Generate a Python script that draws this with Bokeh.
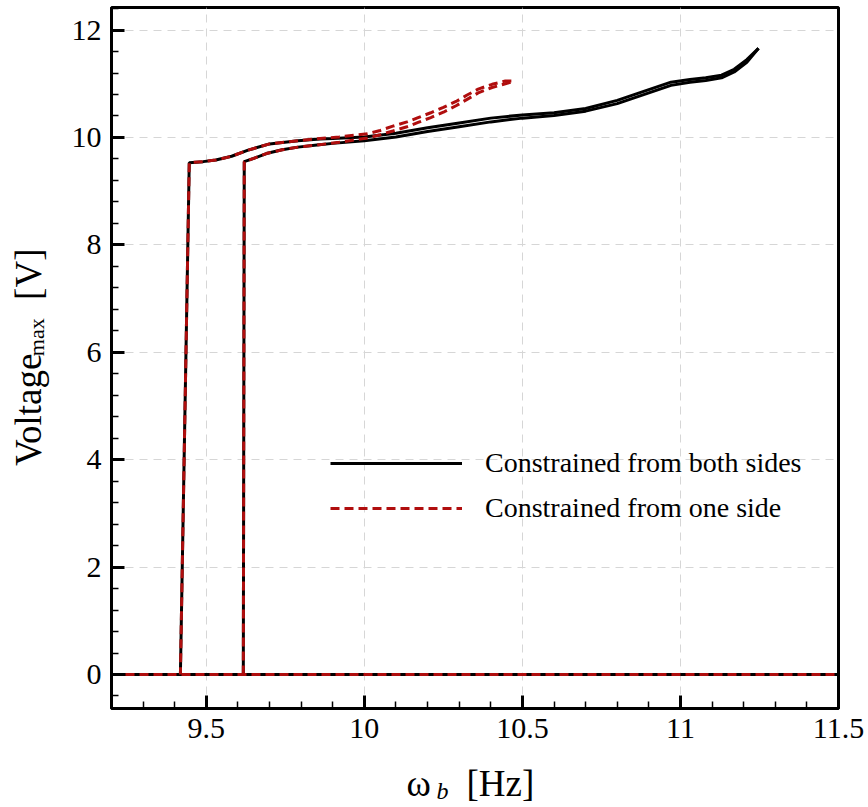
from math import pi
import numpy as np
from bokeh.plotting import figure
from bokeh.layouts import row, column
from bokeh.models import FixedTicker, PrintfTickFormatter, Legend, LegendItem, Range1d
from bokeh.core.properties import value
from bokeh.embed import file_html
from bokeh.resources import INLINE

# ---------------- data ----------------
# "off" (zero-voltage) state
x_off = [9.2, 11.5]
y_off = [0.0, 0.0]

# Constrained from both sides : up-sweep (lower branch)
x_both_up = [9.617, 9.62, 9.65, 9.69, 9.74, 9.79, 9.85, 9.9, 10.0, 10.1, 10.2, 10.3, 10.4,
             10.5, 10.6, 10.7, 10.8, 10.9, 10.97, 11.03, 11.08, 11.13, 11.17, 11.21, 11.247]
y_both_up = [0.0, 9.55, 9.61, 9.70, 9.77, 9.82, 9.86, 9.89, 9.94, 10.01, 10.11, 10.20, 10.29,
             10.36, 10.41, 10.49, 10.63, 10.83, 10.97, 11.03, 11.06, 11.11, 11.22, 11.40, 11.66]
# Constrained from both sides : down-sweep (upper branch)
x_both_down = [11.247, 11.21, 11.17, 11.13, 11.08, 11.03, 10.97, 10.9, 10.8, 10.7, 10.6, 10.5, 10.4,
               10.3, 10.2, 10.1, 10.0, 9.9, 9.86, 9.79, 9.7, 9.63, 9.58, 9.53, 9.49, 9.446, 9.418]
y_both_down = [11.66, 11.45, 11.27, 11.16, 11.11, 11.08, 11.03, 10.89, 10.69, 10.54, 10.46, 10.42,
               10.36, 10.27, 10.18, 10.08, 10.01, 9.98, 9.97, 9.94, 9.88, 9.76, 9.65, 9.58, 9.55,
               9.53, 0.0]

# Constrained from one side : up-sweep (lower branch)
x_one_up = [9.617, 9.62, 9.65, 9.69, 9.74, 9.79, 9.85, 9.92, 10.01, 10.05, 10.09, 10.135,
            10.17, 10.21, 10.25, 10.29, 10.325, 10.36, 10.404, 10.446, 10.465]
y_one_up = [0.0, 9.55, 9.61, 9.70, 9.77, 9.82, 9.86, 9.91, 9.99, 10.05, 10.12, 10.20,
            10.28, 10.37, 10.47, 10.59, 10.71, 10.83, 10.93, 11.00, 11.03]
# Constrained from one side : down-sweep (upper branch)
x_one_down = [10.465, 10.446, 10.404, 10.36, 10.325, 10.29, 10.25, 10.21, 10.17, 10.135, 10.09,
              10.05, 10.01, 9.92, 9.86, 9.79, 9.7, 9.63, 9.58, 9.53, 9.49, 9.446, 9.418]
y_one_down = [11.05, 11.05, 10.99, 10.90, 10.79, 10.67, 10.56, 10.46, 10.37, 10.29, 10.21,
              10.13, 10.07, 10.01, 9.98, 9.94, 9.88, 9.76, 9.65, 9.58, 9.55, 9.53, 0.0]

x_ticks = [9.5, 10.0, 10.5, 11.0, 11.5]
y_ticks = [0, 2, 4, 6, 8, 10, 12]
legend_labels = ["Constrained from both sides", "Constrained from one side"]
y_label_parts = ["Voltage", "max", "[V]"]
x_label_parts = ["\u03c9", "b", "[Hz]"]

# ---------------- layout ----------------
W, H = 868, 807
LW = 62            # width of the y-label strip
BH = 47            # height of the x-label strip
MW, MH = W - LW, H - BH
BL, BR, BT, BB = 111 - LW, 30, 7, 52
X_RANGE = (9.2, 11.5)
Y_RANGE = (-0.633, 12.42)
FONT = "Liberation Serif"
RED = "#b00e0e"

p = figure(width=MW, height=MH, x_range=X_RANGE, y_range=Y_RANGE,
           output_backend="svg", toolbar_location=None,
           min_border_left=BL, min_border_right=BR, min_border_top=BT, min_border_bottom=BB)
p.background_fill_color = "white"
p.border_fill_color = "white"
p.outline_line_color = "black"
p.outline_line_width = 3

p.xaxis.ticker = FixedTicker(ticks=x_ticks, minor_ticks=list(np.round(np.arange(9.2, 11.55, 0.1), 2)))
p.yaxis.ticker = FixedTicker(ticks=y_ticks, minor_ticks=list(np.round(np.arange(-0.4, 12.45, 0.4), 2)))
for ax in (p.xaxis[0], p.yaxis[0]):
    ax.formatter = PrintfTickFormatter(format="%g")
    ax.axis_line_width = 3
    ax.axis_line_color = "black"
    ax.major_tick_in = 13
    ax.major_tick_out = 0
    ax.major_tick_line_width = 3
    ax.major_tick_line_color = "black"
    ax.minor_tick_in = 7
    ax.minor_tick_out = 0
    ax.minor_tick_line_width = 1.5
    ax.minor_tick_line_color = "black"
    ax.major_label_text_font = FONT
    ax.major_label_text_font_size = "30px"
    ax.major_label_text_color = "black"
    ax.major_label_standoff = 10
    ax.axis_label = None

for g in (p.xgrid[0], p.ygrid[0]):
    g.grid_line_color = "#d6d6d6"
    g.grid_line_dash = "8 6"
    g.grid_line_width = 1

# black (solid) curves
b_off = p.line(x_off, y_off, line_color="black", line_width=3)
b_up = p.line(x_both_up, y_both_up, line_color="black", line_width=3)
b_dn = p.line(x_both_down, y_both_down, line_color="black", line_width=3)
# red (dashed) curves
r_off = p.line(x_off, y_off, line_color=RED, line_width=3, line_dash="9 5")
r_up = p.line(x_one_up, y_one_up, line_color=RED, line_width=3, line_dash="9 5")
r_dn = p.line(x_one_down, y_one_down, line_color=RED, line_width=3, line_dash="9 5")

legend = Legend(items=[LegendItem(label=legend_labels[0], renderers=[b_off]),
                       LegendItem(label=legend_labels[1], renderers=[r_off])],
                location=(219, 180), orientation="vertical",
                border_line_alpha=0, background_fill_alpha=0,
                glyph_width=132, glyph_height=40, label_height=40, label_standoff=23,
                spacing=5, padding=0, margin=0,
                label_text_font=FONT, label_text_font_size="28px", label_text_color="black")
p.add_layout(legend)


def strip(width, height):
    f = figure(width=width, height=height, x_range=Range1d(0, width), y_range=Range1d(0, height),
               output_backend="svg", toolbar_location=None, min_border=0,
               x_axis_type=None, y_axis_type=None)
    f.outline_line_color = None
    f.background_fill_color = "white"
    f.border_fill_color = "white"
    return f


def put(fig, x, y, text, size, angle=0.0, style="normal"):
    fig.text(x=[x], y=[y], text=[text], angle=angle, text_font=value(FONT),
             text_font_size=size, text_font_style=style, text_align="left",
             text_baseline="alphabetic", text_color="black")


# y-axis label strip (pixel coordinates, origin bottom-left of strip)
ly = strip(LW, MH)
put(ly, 28, MH - 497, y_label_parts[0], "37px", angle=pi / 2)
put(ly, 36, MH - 378, y_label_parts[1], "22px", angle=pi / 2)
put(ly, 28, MH - 317, y_label_parts[2], "37px", angle=pi / 2)

# x-axis label strip
lx = strip(W, BH)
put(lx, 406, H - 783, x_label_parts[0], "37px")
put(lx, 436, H - 790, x_label_parts[1], "24px", style="italic")
put(lx, 466, H - 783, x_label_parts[2], "37px")

layout = column(row(ly, p, spacing=0), lx, spacing=0)
open("out.html", "w").write(file_html(layout, INLINE))
